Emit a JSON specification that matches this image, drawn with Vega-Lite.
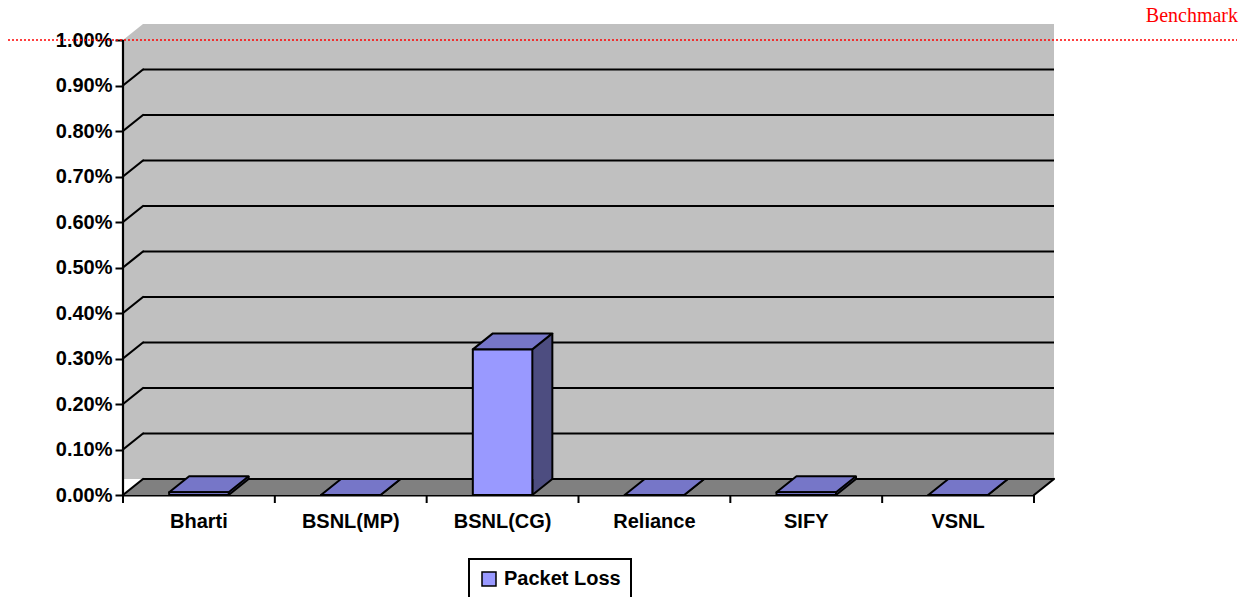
{
  "$schema": "https://vega.github.io/schema/vega-lite/v6.json",
  "width": 911,
  "height": 455,
  "autosize": {"type": "none"},
  "padding": {"left": 123, "top": 40, "right": 215, "bottom": 102},
  "background": "white",
  "datasets": {
    "loss": [
      {"isp": "Bharti", "loss": 0.00006},
      {"isp": "BSNL(MP)", "loss": 0},
      {"isp": "BSNL(CG)", "loss": 0.0032},
      {"isp": "Reliance", "loss": 0},
      {"isp": "SIFY", "loss": 0.00006},
      {"isp": "VSNL", "loss": 0}
    ],
    "ticks": [
      {"tick": 0}, {"tick": 0.001}, {"tick": 0.002}, {"tick": 0.003}, {"tick": 0.004},
      {"tick": 0.005}, {"tick": 0.006}, {"tick": 0.007}, {"tick": 0.008}, {"tick": 0.009}
    ],
    "slots": [
      {"edge": 0}, {"edge": 1}, {"edge": 2}, {"edge": 3}, {"edge": 4}, {"edge": 5}, {"edge": 6}
    ],
    "benchmark": [{"label": "Benchmark", "level": 0.01}]
  },
  "layer": [
    {
      "layer": [
        {
          "data": {"values": [{}]},
          "mark": {"type": "rect", "fill": "#C0C0C0", "xOffset": 20, "x2Offset": 20, "yOffset": -16, "y2Offset": -16},
          "encoding": {
            "x": {"datum": 0, "type": "quantitative", "scale": {"domain": [0, 6], "nice": false, "zero": false}, "axis": null},
            "x2": {"datum": 6},
            "y": {"datum": 0, "type": "quantitative", "scale": {"domain": [0, 0.01], "nice": false}, "axis": {"format": ".2%", "tickCount": 10, "title": null}},
            "y2": {"datum": 0.01}
          }
        },
        {
          "data": {"values": [{}]},
          "mark": {"type": "rect", "fill": "#C0C0C0", "x2Offset": 20, "y2Offset": -16},
          "encoding": {
            "x": {"datum": 0, "type": "quantitative"},
            "x2": {"datum": 0},
            "y": {"datum": 0.01, "type": "quantitative"},
            "y2": {"datum": 0}
          }
        },
        {
          "data": {"values": [{}]},
          "mark": {"type": "point", "shape": "M0,0 L20,-16 L21,-16 L21,1 L0,1 Z", "size": 4, "filled": true, "fill": "#C0C0C0", "strokeWidth": 0, "opacity": 1},
          "encoding": {
            "x": {"datum": 0, "type": "quantitative"},
            "y": {"datum": 0.01, "type": "quantitative"}
          }
        },
        {
          "data": {"values": [{}]},
          "mark": {"type": "rect", "fill": "#808080", "xOffset": 20, "y2Offset": -16},
          "encoding": {
            "x": {"datum": 0, "type": "quantitative"},
            "x2": {"datum": 6},
            "y": {"datum": 0, "type": "quantitative"},
            "y2": {"datum": 0}
          }
        },
        {
          "data": {"values": [{}]},
          "mark": {"type": "point", "shape": "M0,0 L20,-16 L21,-16 L21,0 Z", "size": 4, "filled": true, "fill": "#808080", "strokeWidth": 0, "opacity": 1},
          "encoding": {
            "x": {"datum": 0, "type": "quantitative"},
            "y": {"datum": 0, "type": "quantitative"}
          }
        },
        {
          "data": {"values": [{}]},
          "mark": {"type": "point", "shape": "M-1,0 L0,0 L20,-16 L-1,-16 Z", "size": 4, "filled": true, "fill": "#808080", "strokeWidth": 0, "opacity": 1},
          "encoding": {
            "x": {"datum": 6, "type": "quantitative"},
            "y": {"datum": 0, "type": "quantitative"}
          }
        },
        {
          "data": {"name": "ticks"},
          "mark": {"type": "rule", "color": "black", "strokeWidth": 2.2, "xOffset": 20, "x2Offset": 20, "yOffset": -16},
          "encoding": {
            "x": {"datum": 0, "type": "quantitative"},
            "x2": {"datum": 6},
            "y": {"field": "tick", "type": "quantitative", "title": null}
          }
        },
        {
          "data": {"name": "ticks"},
          "mark": {"type": "rule", "color": "black", "strokeWidth": 2.2, "strokeCap": "round", "x2Offset": 20, "y2Offset": -16},
          "encoding": {
            "x": {"datum": 0, "type": "quantitative"},
            "x2": {"datum": 0},
            "y": {"field": "tick", "type": "quantitative", "title": null},
            "y2": {"field": "tick"}
          }
        },
        {
          "data": {"values": [{}]},
          "mark": {"type": "rule", "color": "black", "strokeWidth": 2.2, "strokeCap": "round", "x2Offset": 20, "y2Offset": -16},
          "encoding": {
            "x": {"datum": 6, "type": "quantitative"},
            "x2": {"datum": 6},
            "y": {"datum": 0, "type": "quantitative"},
            "y2": {"datum": 0}
          }
        },
        {
          "data": {"values": [{}]},
          "mark": {"type": "rule", "color": "black", "strokeWidth": 2.2},
          "encoding": {
            "x": {"datum": 0, "type": "quantitative"},
            "y": {"datum": 0, "type": "quantitative"},
            "y2": {"datum": 0.01}
          }
        },
        {
          "data": {"name": "slots"},
          "mark": {"type": "rule", "color": "black", "strokeWidth": 2, "y2Offset": 8},
          "encoding": {
            "x": {"field": "edge", "type": "quantitative", "title": null},
            "y": {"datum": 0, "type": "quantitative"},
            "y2": {"datum": 0}
          }
        },
        {
          "data": {"name": "benchmark"},
          "mark": {"type": "rule", "color": "#FF0000", "strokeWidth": 1.5, "strokeDash": [2, 2], "xOffset": -115, "x2Offset": 203},
          "encoding": {
            "x": {"datum": 0, "type": "quantitative"},
            "x2": {"datum": 6},
            "y": {"field": "level", "type": "quantitative", "title": null}
          }
        },
        {
          "data": {"name": "benchmark"},
          "mark": {"type": "text", "font": "Liberation Serif", "fontSize": 20, "color": "#FF0000", "align": "right", "baseline": "alphabetic", "dx": 204, "dy": -18},
          "encoding": {
            "x": {"datum": 6, "type": "quantitative"},
            "y": {"field": "level", "type": "quantitative", "title": null},
            "text": {"field": "label"}
          }
        }
      ]
    },
    {
      "data": {"name": "loss"},
      "encoding": {
        "x": {
          "field": "isp",
          "type": "nominal",
          "sort": null,
          "scale": {"paddingInner": 0.608, "paddingOuter": 0.304},
          "axis": {"title": null, "orient": "bottom", "ticks": false, "labelPadding": 16}
        }
      },
      "layer": [
        {
          "mark": {"type": "bar", "fill": "#4D4D80", "strokeWidth": 0, "xOffset": 20, "yOffset": -16, "y2Offset": -16},
          "encoding": {
            "y": {"field": "loss", "type": "quantitative", "title": null},
            "y2": {"datum": 0}
          }
        },
        {
          "mark": {"type": "point", "shape": "M29.76,-16 L29.76,0 L49.76,-16", "size": 4, "filled": true, "fill": "#4D4D80", "stroke": "black", "strokeWidth": 2, "strokeJoin": "round", "opacity": 1},
          "encoding": {
            "y": {"datum": 0, "type": "quantitative"}
          }
        },
        {
          "mark": {"type": "rule", "color": "black", "strokeWidth": 2, "xOffset": 49.76, "yOffset": -16, "y2Offset": -16},
          "encoding": {
            "y": {"field": "loss", "type": "quantitative", "title": null},
            "y2": {"datum": 0}
          }
        },
        {
          "mark": {"type": "point", "shape": "M-29.76,0 L29.76,0 L49.76,-16 L-9.76,-16 Z", "size": 4, "filled": true, "fill": "#7676C8", "stroke": "black", "strokeWidth": 2, "strokeJoin": "round", "opacity": 1},
          "encoding": {
            "y": {"field": "loss", "type": "quantitative", "title": null}
          }
        },
        {
          "mark": {"type": "bar", "stroke": "black", "strokeWidth": 2, "strokeJoin": "round"},
          "encoding": {
            "y": {"field": "loss", "type": "quantitative", "title": null},
            "y2": {"datum": 0},
            "color": {
              "datum": "Packet Loss",
              "scale": {"range": ["#9999FF"]},
              "legend": {"orient": "none", "legendX": 346, "legendY": 519, "title": null}
            }
          }
        }
      ]
    }
  ],
  "resolve": {"scale": {"x": "independent"}, "axis": {"x": "independent"}},
  "config": {
    "font": "Liberation Sans",
    "view": {"stroke": null},
    "axis": {
      "labelFont": "Liberation Sans",
      "labelFontWeight": "bold",
      "labelFontSize": 20,
      "labelColor": "black",
      "tickColor": "black",
      "tickWidth": 2,
      "tickSize": 8,
      "domainColor": "black",
      "domainWidth": 2.2,
      "grid": false
    },
    "axisY": {"domain": false, "labelPadding": 3, "zindex": 0},
    "axisX": {"zindex": 1, "labelAngle": 0},
    "legend": {
      "direction": "horizontal",
      "strokeColor": "black",
      "strokeWidth": 2,
      "fillColor": "white",
      "padding": 10,
      "symbolType": "square",
      "symbolSize": 196,
      "symbolStrokeColor": "black",
      "symbolStrokeWidth": 1.5,
      "symbolOpacity": 1,
      "labelFont": "Liberation Sans",
      "labelFontSize": 20,
      "labelFontWeight": "bold",
      "labelColor": "black",
      "labelOffset": 5
    }
  }
}
